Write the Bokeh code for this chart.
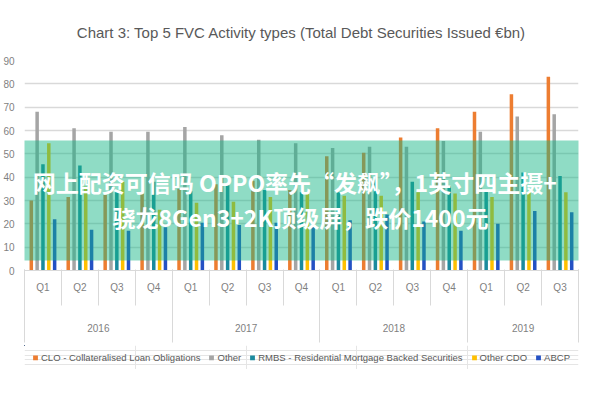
from bokeh.plotting import figure
from bokeh.layouts import column
from bokeh.models import (Range1d, LinearAxis, FixedTicker, ColumnDataSource,
                          Legend, LegendItem, BoxAnnotation, Label)
from bokeh.transform import dodge
from bokeh.embed import file_html
from bokeh.resources import INLINE

# ---- data ----
years = ["2016"] * 4 + ["2017"] * 4 + ["2018"] * 4 + ["2019"] * 3
quarters = ["Q1", "Q2", "Q3", "Q4"] * 3 + ["Q1", "Q2", "Q3"]
year_labels = ["2016", "2017", "2018", "2019"]

clo = [30, 31.5, 32.5, 33, 35, 37, 38.5, 34.5, 49, 50.5, 57, 61, 68, 75.5, 83]
other = [68, 61, 59.5, 59.5, 61.5, 58, 56, 54.5, 52.5, 53, 53, 55.5, 59.5, 66, 67]
rmbs = [45.5, 45, 33.5, 38, 34, 36.5, 34.5, 33.5, 33.5, 39, 38, 36, 34, 42, 40.5]
other_cdo = [54.5, 36, 38, 26, 29, 29.5, 31.5, 33, 32, 32, 33.5, 33, 31.5, 33.5, 33.5]
abcp = [22, 17.5, 17, 18.5, 20.5, 19.5, 20.5, 20, 21.5, 24, 21, 17, 20, 25.5, 25]

series_keys = ["clo", "other", "rmbs", "other_cdo", "abcp"]
series_names = ["CLO - Collateralised Loan Obligations", "Other",
                "RMBS - Residential Mortgage Backed Securities", "Other CDO", "ABCP"]
colors = ["#ED7D31", "#A5A5A5", "#1B8A9E", "#FFC000", "#2451C4"]

title_text = "Chart 3: Top 5 FVC Activity types (Total Debt Securities Issued €bn)"
overlay_line1 = "网上配资可信吗 OPPO率先“发飙”，1英寸四主摄+"
overlay_line2 = "骁龙8Gen3+2K顶级屏，跌价1400元"

y_ticks = list(range(0, 91, 10))

# ---- build ----
n = len(quarters)
centers_q = [i + 0.5 for i in range(n)]   # slot centres on the category scale
src = ColumnDataSource(dict(x=centers_q, clo=clo, other=other, rmbs=rmbs,
                            other_cdo=other_cdo, abcp=abcp))

FONT = "Liberation Sans"
GRID = "#d9d9d9"
W, H = 584, 345
TOP, BOTTOM = 60, 75

p = figure(width=W, height=H, x_range=Range1d(0, n), y_range=Range1d(0, 90),
           x_axis_location=None, output_backend="svg", toolbar_location=None,
           min_border_left=22, min_border_right=6, min_border_top=TOP, min_border_bottom=BOTTOM)
p.outline_line_color = None
p.xgrid.visible = False

p.title.text = title_text
p.title.align = "center"
p.title.text_font = FONT
p.title.text_font_size = "15px"
p.title.text_font_style = "normal"
p.title.text_color = "#595959"
p.title.standoff = 40

# y axis & grid
p.yaxis.ticker = FixedTicker(ticks=y_ticks)
p.yaxis.axis_line_color = None
p.yaxis.major_tick_line_color = None
p.yaxis.minor_tick_line_color = None
p.yaxis.major_label_text_font = FONT
p.yaxis.major_label_text_font_size = "10px"
p.yaxis.major_label_text_color = "#7f7f7f"
p.yaxis.major_label_standoff = 4
p.ygrid.ticker = FixedTicker(ticks=y_ticks)
p.ygrid.grid_line_color = GRID
p.ygrid.grid_line_width = 1.5

# bars
offsets = [-0.316, -0.158, 0.0, 0.158, 0.316]
for key, off, col in zip(series_keys, offsets, colors):
    p.vbar(x=dodge("x", off), top=key, width=0.095, source=src,
           fill_color=col, line_color=None)

# x axes: quarter labels, year labels (+ quarter separators), year separators
Q_H = 26
ax1 = LinearAxis(ticker=FixedTicker(ticks=centers_q),
                 major_label_overrides={t: q for t, q in zip(centers_q, quarters)},
                 axis_line_color=GRID, major_tick_in=0, major_tick_out=0,
                 minor_tick_in=0, minor_tick_out=0,
                 major_label_standoff=11, major_label_text_font=FONT,
                 major_label_text_font_size="10px", major_label_text_color="#7f7f7f")
p.add_layout(ax1, "below")

bounds = [0]
centers_y = []
for yl in year_labels:
    idx = [i for i, y in enumerate(years) if y == yl]
    centers_y.append((idx[0] + idx[-1] + 1) / 2)
    bounds.append(idx[-1] + 1)
ax2 = LinearAxis(ticker=FixedTicker(ticks=centers_y, minor_ticks=list(range(n + 1))),
                 major_label_overrides={c: yl for c, yl in zip(centers_y, year_labels)},
                 axis_line_color=None, major_tick_in=0, major_tick_out=0,
                 minor_tick_in=Q_H, minor_tick_out=10, minor_tick_line_color=GRID,
                 major_label_standoff=18, major_label_text_font=FONT,
                 major_label_text_font_size="10px", major_label_text_color="#7f7f7f")
p.add_layout(ax2, "below")

ax3 = LinearAxis(ticker=FixedTicker(ticks=[], minor_ticks=bounds),
                 axis_line_color=None, major_tick_in=0, major_tick_out=0,
                 minor_tick_in=65, minor_tick_out=8, minor_tick_line_color=GRID,
                 major_label_standoff=0, major_label_text_font_size="10px")
p.add_layout(ax3, "below")

# overlay banner (canvas units, y measured from the top)
box = BoxAnnotation(left=0, right=W, top=140, bottom=260,
                    left_units="canvas", right_units="canvas",
                    top_units="canvas", bottom_units="canvas",
                    fill_color="#15b685", fill_alpha=0.48, line_color=None, level="overlay")
p.add_layout(box)
for txt, yy in [(overlay_line1, 181), (overlay_line2, 216)]:
    p.add_layout(Label(x=300, y=yy, x_units="canvas", y_units="canvas", text=txt,
                       text_align="center", text_baseline="middle",
                       text_font="Noto Sans CJK SC", text_font_size="23px",
                       text_font_style="bold", text_color="white", level="overlay"))

# legend strip underneath: same series on a view window far away from the data,
# so only the legend swatches and labels show
pl = figure(width=W, height=24, x_range=Range1d(1000, 1001), y_range=Range1d(-1000, -999),
            x_axis_location=None, y_axis_location=None, toolbar_location=None,
            output_backend="svg", min_border=0)
pl.outline_line_color = None
leg_rs = [pl.vbar(x=dodge("x", off), top=key, width=0.095, source=src,
                  fill_color=c, line_color=None)
          for key, off, c in zip(series_keys, offsets, colors)]
legend = Legend(items=[LegendItem(label=nm, renderers=[r]) for nm, r in zip(series_names, leg_rs)],
                orientation="horizontal", location="center",
                label_text_font=FONT, label_text_font_size="9.5px", label_text_color="#595959",
                glyph_width=6, glyph_height=6, label_standoff=3, spacing=8,
                padding=2, margin=0, border_line_color=None, background_fill_alpha=0)
pl.add_layout(legend)

open("out.html", "w").write(file_html(column(p, pl), INLINE))
